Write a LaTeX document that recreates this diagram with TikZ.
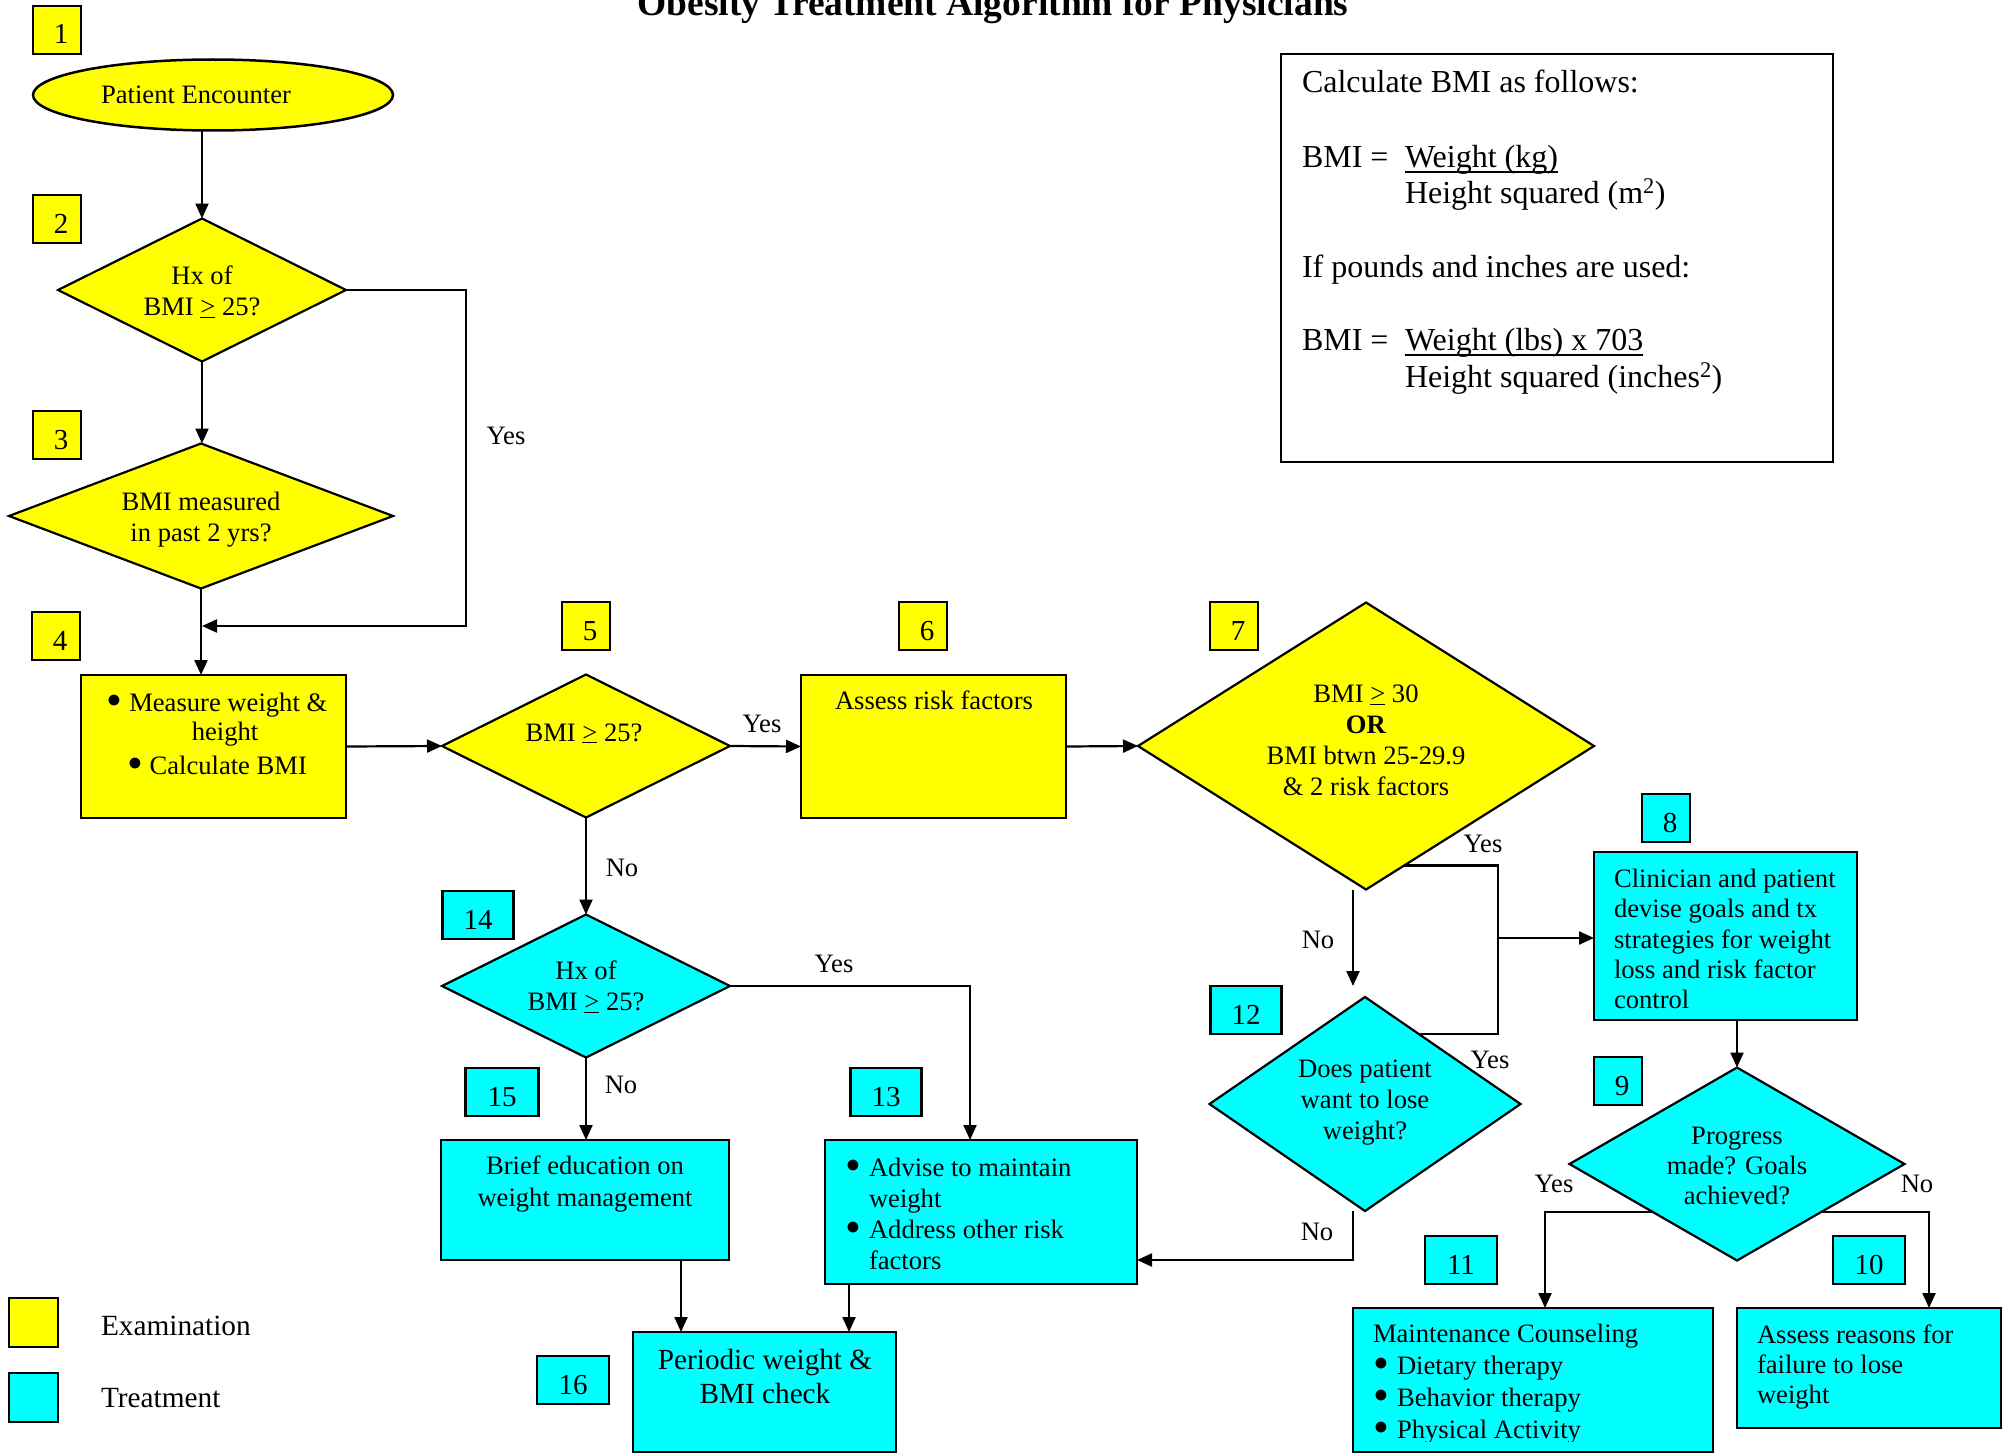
\documentclass[tikz,border=0pt]{standalone}
\usepackage{fontspec}
\setmainfont{Liberation Serif}
\usetikzlibrary{shapes.geometric,arrows.meta,calc}
\definecolor{ye}{RGB}{255,255,0}
\definecolor{cy}{RGB}{0,255,255}
\newcommand{\bigbul}{\raisebox{-4.5pt}{\scalebox{1.7}{\textbullet}}}
\newcommand{\bul}{\makebox[24pt][l]{\bigbul}}
\newcommand{\nb}[1]{#1}
\newcommand{\nbs}[1]{\hspace*{8pt}#1}
\begin{document}
\begin{tikzpicture}[x=1pt,y=-1pt,
  every node/.style={inner sep=0pt, outer sep=0pt},
  tx/.style={font=\fontsize{26.6}{31}\selectfont},
  fi/.style={font=\fontsize{32}{37}\selectfont},
  box/.style={draw, line width=2.6pt, rectangle},
  dia/.style={draw, diamond, line width=2.2pt},
  numb/.style={box, minimum width=48pt, minimum height=48pt, text height=28pt, text depth=0pt, font=\fontsize{29}{33}\selectfont},
  con/.style={line width=2.2pt},
  arr/.style={con, -{Triangle[length=15pt,width=13pt]}}
]
\clip (0,0) rectangle (2007,1453);

% title
\node[anchor=base, font=\fontsize{37.5}{42}\selectfont\bfseries] (title) at (993,16) {Obesity Treatment Algorithm for Physicians};

% number boxes
\node[numb, fill=ye] (n1) at (57,30) {\nbs{1}};
\node[numb, fill=ye] (n2) at (57,219) {\nbs{2}};
\node[numb, fill=ye] (n3) at (57,435) {\nbs{3}};
\node[numb, fill=ye] (n4) at (56,636) {\nbs{4}};
\node[numb, fill=ye] (n5) at (586,626) {\nbs{5}};
\node[numb, fill=ye] (n6) at (923,626) {\nbs{6}};
\node[numb, fill=ye] (n7) at (1234,626) {\nbs{7}};
\node[numb, fill=cy] (n8) at (1666,818) {\nbs{8}};
\node[numb, fill=cy] (n9) at (1618,1081) {\nbs{9}};
\node[numb, fill=cy, minimum width=72pt] (n10) at (1869,1260) {\nb{10}};
\node[numb, fill=cy, minimum width=72pt] (n11) at (1461,1260) {\nb{11}};
\node[numb, fill=cy, minimum width=71pt] (n12) at (1246,1010) {\nb{12}};
\node[numb, fill=cy, minimum width=71pt] (n13) at (886,1092) {\nb{13}};
\node[numb, fill=cy, minimum width=71pt] (n14) at (478,915) {\nb{14}};
\node[numb, fill=cy, minimum width=73pt] (n15) at (502,1092) {\nb{15}};
\node[numb, fill=cy, minimum width=72pt] (n16) at (573,1380) {\nb{16}};

% shapes
\node[draw, ellipse, fill=ye, line width=2.5pt, minimum width=360pt, minimum height=71pt] (pe) at (213,95) {};
\node[dia, fill=ye, minimum width=288pt, minimum height=143pt] (d2) at (202,290) {};
\node[dia, fill=ye, minimum width=384pt, minimum height=145pt] (d3) at (201,516) {};
\node[box, fill=ye, minimum width=265pt, minimum height=143pt] (b4) at (213.5,746.5) {};
\node[dia, fill=ye, minimum width=288pt, minimum height=143pt] (d5) at (586,746) {};
\node[box, fill=ye, minimum width=265pt, minimum height=143pt] (b6) at (933.5,746.5) {};
\node[dia, fill=ye, minimum width=456pt, minimum height=287pt] (d7) at (1366,746) {};
\node[box, fill=cy, minimum width=263pt, minimum height=168pt] (b8) at (1725.5,936) {};
\node[dia, fill=cy, minimum width=311pt, minimum height=214pt] (d12) at (1365,1104) {};
\node[dia, fill=cy, minimum width=335pt, minimum height=193pt] (d9) at (1737,1164) {};
\node[box, fill=cy, minimum width=360pt, minimum height=144pt] (b11) at (1533,1380) {};
\node[box, fill=cy, minimum width=264pt, minimum height=120pt] (b10) at (1869,1368) {};
\node[box, fill=cy, minimum width=312pt, minimum height=144pt] (b13) at (981,1212) {};
\node[dia, fill=cy, minimum width=288pt, minimum height=143pt] (d14) at (586,986) {};
\node[box, fill=cy, minimum width=288pt, minimum height=120pt] (b15) at (585,1200) {};
\node[box, fill=cy, minimum width=263pt, minimum height=120pt] (b16) at (764.5,1392) {};
\node[box, fill=white, minimum width=552pt, minimum height=408pt] (info) at (1557,258) {};

% texts in shapes
\node[tx] (t1) at (196,95) {Patient Encounter};
\node[tx, align=center, anchor=north] (t2) at (202,266) {Hx of\\BMI \underline{>} 25?};
\node[tx, align=center, anchor=north] (t3) at (201,492) {BMI measured\\in past 2 yrs?};
\node[tx, align=center, anchor=north, font=\fontsize{26.6}{29}\selectfont] (t4) at (217,693) {\bigbul\ Measure weight \&\\\hspace*{16pt}height\\[5pt]\bigbul\ Calculate BMI};
\node[tx, anchor=base] (t5) at (584,741) {BMI \underline{>} 25?};
\node[tx, anchor=base] (t6) at (934,709) {Assess risk factors};
\node[tx, align=center, anchor=north] (t7) at (1366,685) {BMI \underline{>} 30\\\textbf{OR}\\BMI btwn 25-29.9\\\& 2 risk factors};
\node[tx, align=left, anchor=north west, font=\fontsize{26.6}{30.3}\selectfont] (t8) at (1614,869) {Clinician and patient\\devise goals and tx\\strategies for weight\\loss and risk factor\\control};
\node[tx, align=center, anchor=north] (t12) at (1365,1060) {Does patient\\want to lose\\weight?};
\node[tx, align=center, anchor=north, font=\fontsize{26.6}{30}\selectfont] (t9) at (1737,1127) {Progress\\made? Goals\\achieved?};
\begin{scope}
\clip (1353,1308) rectangle (1713,1441);
\node[tx, align=left, anchor=north west, font=\fontsize{26.6}{32}\selectfont] (t11) at (1373,1324) {Maintenance Counseling\\\bul Dietary therapy\\\bul Behavior therapy\\\bul Physical Activity};
\end{scope}
\node[tx, align=left, anchor=north west, font=\fontsize{26.6}{30}\selectfont] (t10) at (1757,1325) {Assess reasons for\\failure to lose\\weight};
\node[tx, align=left, anchor=north west] (t13) at (845,1158) {\bul Advise to maintain\\\hspace*{24pt}weight\\\bul Address other risk\\\hspace*{24pt}factors};
\node[tx, align=center, anchor=north] (t14) at (586,961) {Hx of\\BMI \underline{>} 25?};
\node[tx, align=center, anchor=north, font=\fontsize{26.6}{32}\selectfont] (t15) at (585,1156) {Brief education on\\weight management};
\node[align=center, anchor=north, font=\fontsize{29.2}{34}\selectfont] (t16) at (765,1349) {Periodic weight \&\\BMI check};

% info box texts
\node[fi, anchor=base west] (c1) at (1302,93) {Calculate BMI as follows:};
\node[fi, anchor=base west] (c2) at (1302,167) {BMI =};
\node[fi, anchor=base west] (c3) at (1405,167) {Weight (kg)};
\node[fi, anchor=base west] (c4) at (1405,203) {Height squared (m\textsuperscript{2})};
\node[fi, anchor=base west] (c5) at (1302,277) {If pounds and inches are used:};
\node[fi, anchor=base west] (c6) at (1302,350) {BMI =};
\node[fi, anchor=base west] (c7) at (1405,350) {Weight (lbs) x 703};
\node[fi, anchor=base west] (c8) at (1405,387) {Height squared (inches\textsuperscript{2})};
\draw[line width=1.8pt] ([yshift=-5pt]c3.base west) -- ([yshift=-5pt]c3.base east);
\draw[line width=1.8pt] ([yshift=-5pt]c7.base west) -- ([yshift=-5pt]c7.base east);

% legend
\node[box, fill=ye, minimum width=49pt, minimum height=49pt] (lg1) at (33.5,1322.5) {};
\node[box, fill=cy, minimum width=49pt, minimum height=49pt] (lg2) at (33.5,1397.5) {};
\node[anchor=base west, font=\fontsize{29.3}{33}\selectfont] (lt1) at (101,1335) {Examination};
\node[anchor=base west, font=\fontsize{29.3}{33}\selectfont] (lt2) at (101,1407) {Treatment};

% connectors
\coordinate (j4) at (202,626);
\coordinate (jy) at (1498,938);
\coordinate (p7) at ($(d7.east)!0.833!(d7.south)$);
\coordinate (p12) at ($(d12.north)!0.346!(d12.east)$);
\draw[arr] (pe.south -| d2.north) -- (d2.north);
\draw[arr] (d2.south) -- (d2.south |- d3.north);
\draw[arr] (d2.east) -- ++(120,0) |- (j4);
\draw[arr] (d3.south) -- (d3.south |- b4.north);
\draw[arr] (b4.east) -- (d5.west);
\draw[arr] (d5.east) -- (b6.west);
\draw[arr] (b6.east) -- (d7.west);
\draw[arr] (d5.south) -- (d14.north);
\draw[arr] (d14.east) -| ([xshift=-11pt]b13.north);
\draw[arr] (d14.south) -- (d14.south |- b15.north);
\draw[arr] ([xshift=96pt]b15.south) -- ([xshift=96pt]b15.south |- b16.north);
\draw[arr] ([xshift=-132pt]b13.south) -- ([xshift=-132pt]b13.south |- b16.north);
\draw[con] (p7) -| (jy) |- (p12);
\draw[arr] (jy) -- (b8.west |- jy);
\draw[arr, shorten >=11pt] ([xshift=-13pt]d7.south) -- ([xshift=-13pt]d7.south |- d12.north);
\draw[arr] ([xshift=-12pt]d12.south) |- ([yshift=-48pt]b13.east);
\draw[arr] (d9.north |- b8.south) -- (d9.north);
\draw[arr] ($(d9.west)!0.5!(d9.south)$) -| ([xshift=12pt]b11.north);
\draw[arr] ($(d9.east)!0.5!(d9.south)$) -| ([xshift=60pt]b10.north);

% labels
\node[tx] (l1) at (506,436) {Yes};
\node[tx] (l2) at (762,724) {Yes};
\node[tx] (l3) at (622,868) {No};
\node[tx] (l4) at (834,964) {Yes};
\node[tx] (l5) at (621,1085) {No};
\node[tx] (l6) at (1483,844) {Yes};
\node[tx] (l7) at (1318,940) {No};
\node[tx] (l8) at (1490,1060) {Yes};
\node[tx] (l9) at (1317,1232) {No};
\node[tx] (l10) at (1554,1184) {Yes};
\node[tx] (l11) at (1917,1184) {No};
\end{tikzpicture}
\end{document}
